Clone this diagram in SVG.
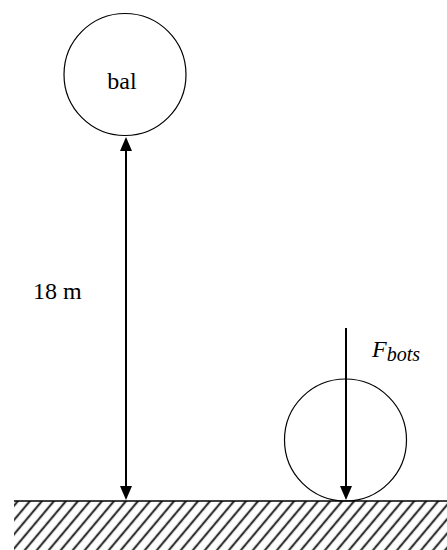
<svg xmlns="http://www.w3.org/2000/svg" width="447" height="550" viewBox="0 0 447 550">
<style>
.ball{fill:none;stroke:#000;stroke-width:1.2}
.arrow{stroke:#000;stroke-width:2;fill:none}
.lbl{font-family:"Liberation Serif",serif;font-size:24px;fill:#000}
.it{font-style:italic}
</style>
<defs>
<marker id="ah" markerUnits="userSpaceOnUse" markerWidth="14" markerHeight="12" refX="0" refY="6" orient="auto-start-reverse" viewBox="0 0 14 12">
<path d="M0,0 L14,6 L0,12 z" fill="#000"/>
</marker>
<pattern id="hatch" patternUnits="userSpaceOnUse" width="9.2" height="20" patternTransform="rotate(40)">
<line x1="4.6" y1="-2" x2="4.6" y2="22" stroke="#333" stroke-width="2.2"/>
</pattern>
</defs>
<g id="ground">
<rect x="14" y="501" width="433" height="49" fill="url(#hatch)"/>
<line x1="14" y1="501" x2="447" y2="501" stroke="#000" stroke-width="1.5"/>
</g>
<g id="bal">
<circle class="ball" cx="125" cy="74.5" r="61"/>
<text class="lbl" x="122" y="89" text-anchor="middle">bal</text>
</g>
<g id="bal-grond">
<circle class="ball" cx="345.5" cy="440" r="61"/>
</g>
<g id="labels">
<text class="lbl" x="33" y="299">18 m</text>
<text class="lbl it" x="372" y="357" font-size="26">F<tspan font-size="20" dy="4">bots</tspan></text>
</g>
<g id="connectors">
<line class="arrow" x1="126" y1="151" x2="126" y2="486" marker-start="url(#ah)" marker-end="url(#ah)"/>
<line class="arrow" x1="346" y1="328" x2="346" y2="486" marker-end="url(#ah)"/>
</g>
</svg>
